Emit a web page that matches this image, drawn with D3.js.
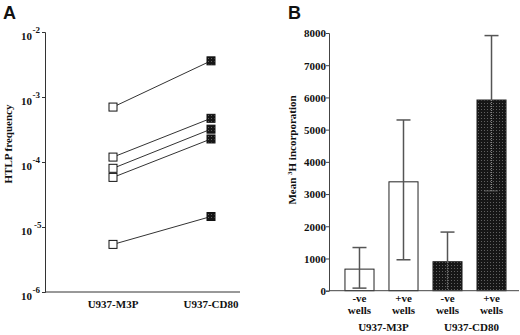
<!DOCTYPE html>
<html><head><meta charset="utf-8">
<script src="https://cdn.jsdelivr.net/npm/d3@7/dist/d3.min.js"></script>
<style>
body{margin:0;background:#fff;}
svg{display:block;}
text{font-family:"Liberation Serif","Times New Roman",serif;font-weight:bold;fill:#111;}
.panel{font-family:"Liberation Sans",Arial,sans-serif;font-weight:bold;font-size:18px;}
</style></head><body>
<svg id="c" width="520" height="335"></svg>
<script>
// Panel A data: HTLP frequency per experiment
const catsA = ["U937-M3P", "U937-CD80"];
const m3pFreq = [7.0e-4, 1.19e-4, 8.0e-5, 5.8e-5, 5.4e-6];
const cd80Freq = [3.6e-3, 4.7e-4, 3.2e-4, 2.26e-4, 1.45e-5];
const ticksA = [1e-2, 1e-3, 1e-4, 1e-5, 1e-6];
const expA = ["-2", "-3", "-4", "-5", "-6"];

// Panel B data: mean 3H incorporation
const barKeys = ["m3p-neg", "m3p-pos", "cd80-neg", "cd80-pos"];
const barTop = ["-ve", "+ve", "-ve", "+ve"];
const barBottom = ["wells", "wells", "wells", "wells"];
const barGroup = ["U937-M3P", "U937-M3P", "U937-CD80", "U937-CD80"];
const barMean = [670, 3380, 900, 5920];
const barHigh = [1340, 5300, 1820, 7920];
const barLow = [80, 960, 30, 3100];
const barDark = [false, false, true, true];
const groupsB = ["U937-M3P", "U937-CD80"];
const ticksB = [0, 1000, 2000, 3000, 4000, 5000, 6000, 7000, 8000];

const svg = d3.select("#c");
const defs = svg.append("defs");
const pat = defs.append("pattern").attr("id", "hatch").attr("patternUnits", "userSpaceOnUse")
  .attr("width", 3).attr("height", 3);
pat.append("rect").attr("width", 3).attr("height", 3).attr("fill", "#161616");
pat.append("rect").attr("x", 1).attr("y", 1).attr("width", 1).attr("height", 1).attr("fill", "#606060");

// ---------- Panel A ----------
svg.append("text").attr("class", "panel").attr("x", 3).attr("y", 19).text("A");
const yA = d3.scaleLog().domain([1e-6, 1e-2]).range([292, 32]);
const xA = d3.scalePoint().domain(catsA).range([113, 211]);
const axA = svg.append("g");
axA.append("line").attr("x1", 45).attr("x2", 240).attr("y1", yA(1e-6)).attr("y2", yA(1e-6))
  .attr("stroke", "#333").attr("stroke-width", 1);
const yAxisA = d3.axisLeft(yA).tickValues(ticksA).tickSize(3).tickFormat(() => "");
const gA = axA.append("g").attr("transform", "translate(45,0)").call(yAxisA);
gA.select(".domain").attr("stroke", "#333");
gA.selectAll(".tick line").attr("stroke", "#333");
ticksA.forEach((t, i) => {
  const tx = axA.append("text").attr("x", 21).attr("y", yA(t) + 8).attr("font-size", 11);
  tx.append("tspan").text("10");
  tx.append("tspan").attr("dy", -7).attr("dx", i === 3 ? 2 : 0.5).attr("font-size", 9).text(expA[i]);
});
catsA.forEach(c => {
  svg.append("text").attr("x", xA(c)).attr("y", 308).attr("text-anchor", "middle")
    .attr("font-size", 11).text(c);
});
svg.append("text").attr("transform", "translate(12,144) rotate(-90)").attr("text-anchor", "middle")
  .attr("font-size", 11).text("HTLP frequency");
const pairs = m3pFreq.map((v, i) => [v, cd80Freq[i]]);
svg.append("g").selectAll("line").data(pairs).join("line")
  .attr("x1", xA(catsA[0])).attr("x2", xA(catsA[1]))
  .attr("y1", d => yA(d[0])).attr("y2", d => yA(d[1]))
  .attr("stroke", "#333").attr("stroke-width", 1);
const s = 8;
svg.append("g").selectAll("rect").data(m3pFreq).join("rect")
  .attr("x", xA(catsA[0]) - s / 2).attr("y", d => yA(d) - s / 2).attr("width", s).attr("height", s)
  .attr("fill", "#fff").attr("stroke", "#111").attr("stroke-width", 1);
svg.append("g").selectAll("rect").data(cd80Freq).join("rect")
  .attr("x", xA(catsA[1]) - s / 2).attr("y", d => yA(d) - s / 2).attr("width", s).attr("height", s)
  .attr("fill", "url(#hatch)").attr("stroke", "#111").attr("stroke-width", 1);

// ---------- Panel B ----------
svg.append("text").attr("class", "panel").attr("x", 288).attr("y", 19).text("B");
const yB = d3.scaleLinear().domain([0, 8000]).range([290.7, 33]);
const xB = d3.scaleBand().domain(barKeys).range([330, 521]).paddingInner(0.34).paddingOuter(0.34);
const gB = svg.append("g").attr("transform", "translate(329,0)")
  .call(d3.axisLeft(yB).tickValues(ticksB).tickSize(3).tickFormat(d3.format("d")));
gB.attr("font-family", null).attr("font-size", null);
gB.select(".domain").attr("stroke", "#444");
gB.selectAll(".tick line").attr("stroke", "#444");
gB.selectAll(".tick text").attr("font-size", 11).attr("x", -3).attr("dy", "0.35em").attr("fill", "#111");
svg.append("text").attr("transform", "translate(296,150) rotate(-90)").attr("text-anchor", "middle")
  .attr("font-size", 11)
  .call(t => { t.append("tspan").text("Mean "); t.append("tspan").attr("dy", -4).attr("font-size", 7).text("3");
    t.append("tspan").attr("dy", 4).text("H incorporation"); });
const bars = svg.append("g");
barKeys.forEach((k, i) => {
  const x = xB(k), w = xB.bandwidth(), cx = x + w / 2;
  bars.append("rect").attr("x", x).attr("y", yB(barMean[i])).attr("width", w)
    .attr("height", yB(0) - yB(barMean[i]))
    .attr("fill", barDark[i] ? "url(#hatch)" : "#fff").attr("stroke", "#222").attr("stroke-width", 1);
  const cw = 7;
  if (!barDark[i]) {
    bars.append("line").attr("x1", cx).attr("x2", cx).attr("y1", yB(barHigh[i])).attr("y2", yB(barLow[i]))
      .attr("stroke", "#555").attr("stroke-width", 1.5);
    [barHigh[i], barLow[i]].forEach(v => bars.append("line").attr("x1", cx - cw).attr("x2", cx + cw)
      .attr("y1", yB(v)).attr("y2", yB(v)).attr("stroke", "#555").attr("stroke-width", 1.5));
  } else {
    bars.append("line").attr("x1", cx).attr("x2", cx).attr("y1", yB(barHigh[i])).attr("y2", yB(barMean[i]))
      .attr("stroke", "#555").attr("stroke-width", 1.5);
    bars.append("line").attr("x1", cx - cw).attr("x2", cx + cw).attr("y1", yB(barHigh[i])).attr("y2", yB(barHigh[i]))
      .attr("stroke", "#555").attr("stroke-width", 1.5);
    bars.append("line").attr("x1", cx).attr("x2", cx).attr("y1", yB(barMean[i])).attr("y2", yB(barLow[i]))
      .attr("stroke", "#8a8a8a").attr("stroke-width", 1.2).attr("stroke-dasharray", "1,1");
    if (barLow[i] > 100) bars.append("line").attr("x1", cx - cw).attr("x2", cx + cw).attr("y1", yB(barLow[i])).attr("y2", yB(barLow[i]))
      .attr("stroke", "#8a8a8a").attr("stroke-width", 1.2).attr("stroke-dasharray", "1,1");
  }
  svg.append("text").attr("x", cx).attr("y", 302).attr("text-anchor", "middle").attr("font-size", 11).text(barTop[i]);
  svg.append("text").attr("x", cx).attr("y", 314).attr("text-anchor", "middle").attr("font-size", 11).text(barBottom[i]);
});
svg.append("line").attr("x1", 329).attr("x2", 519).attr("y1", yB(0)).attr("y2", yB(0)).attr("stroke", "#444").attr("stroke-width", 1);
groupsB.forEach(g => {
  const ks = barKeys.filter((k, i) => barGroup[i] === g);
  const cx = (xB(ks[0]) + xB(ks[ks.length - 1]) + xB.bandwidth()) / 2;
  svg.append("text").attr("x", cx + 2).attr("y", 331).attr("text-anchor", "middle").attr("font-size", 11).text(g);
});
</script></body></html>
